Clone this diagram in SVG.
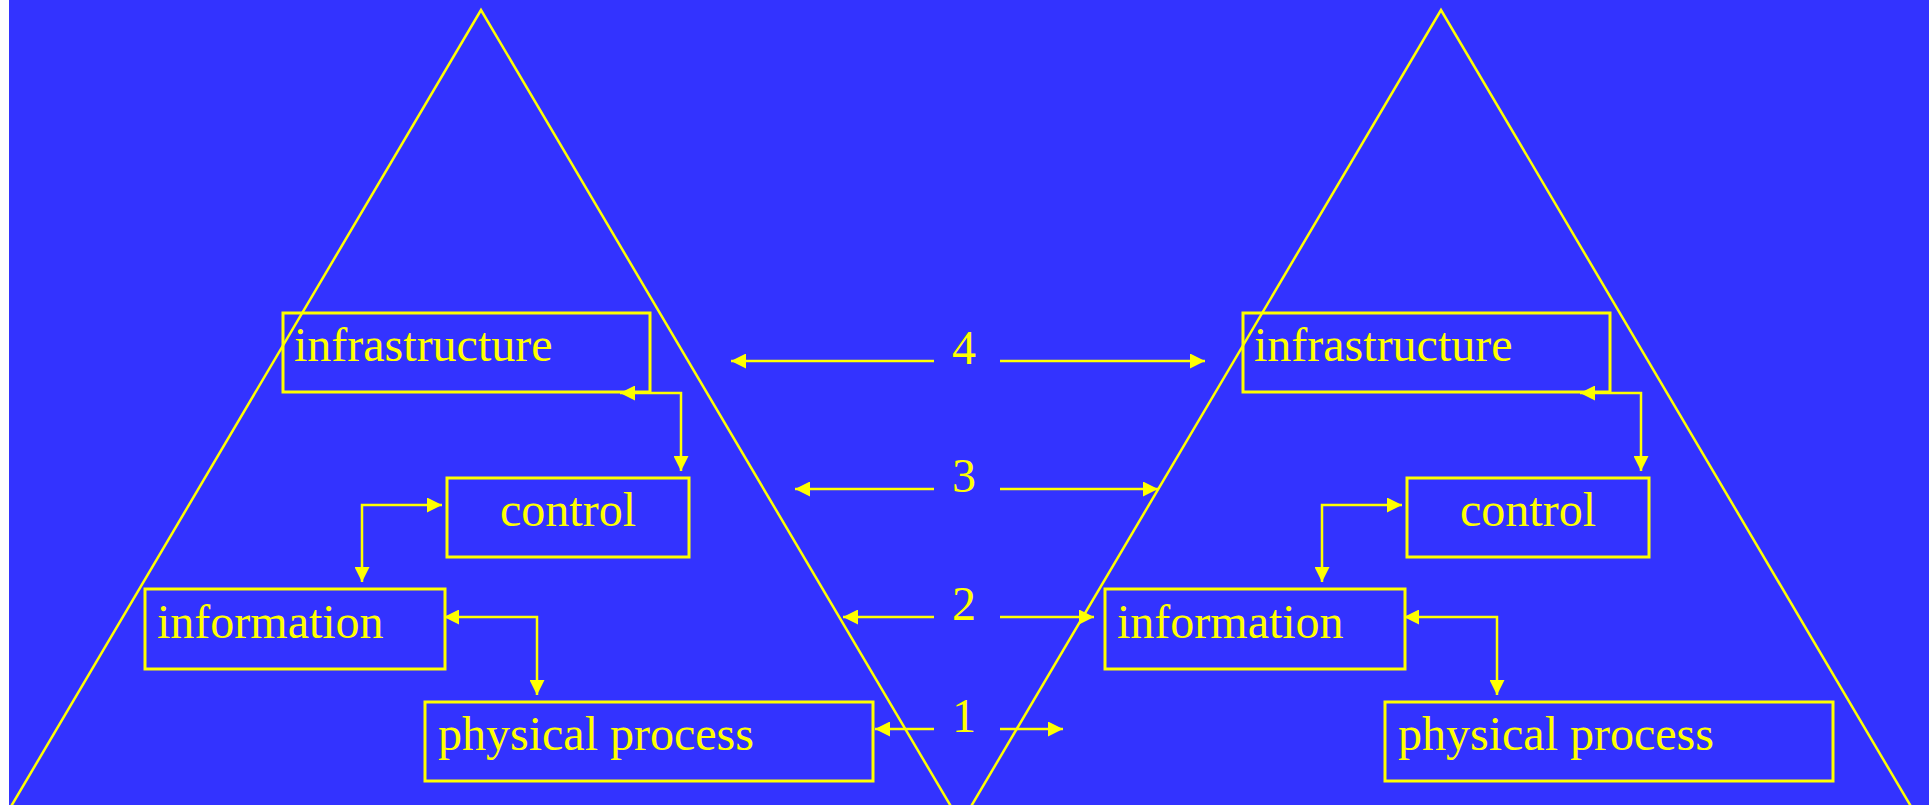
<svg xmlns="http://www.w3.org/2000/svg" width="1929" height="805" viewBox="0 0 1929 805">
<defs>
<style>
.tri{fill:none;stroke:#FFFF00;stroke-width:2.5}
.box{fill:none;stroke:#FFFF00;stroke-width:3}
.lbl{font-family:"Liberation Serif","Times New Roman",serif;font-size:48px;fill:#FFFF00}
.num{font-family:"Liberation Serif","Times New Roman",serif;font-size:48px;fill:#FFFF00;text-anchor:middle}
.con{fill:none;stroke:#FFFF00;stroke-width:2.5}
.bi{marker-start:url(#ah);marker-end:url(#ah)}
.one{marker-end:url(#ah)}
</style>
<marker id="ah" viewBox="0 0 15 15" refX="15" refY="7.5" markerWidth="15" markerHeight="15" orient="auto-start-reverse" markerUnits="userSpaceOnUse">
<path d="M0,0 L15,7.5 L0,15 z" fill="#FFFF00"/>
</marker>
</defs>
<rect x="0" y="0" width="1929" height="805" fill="#FFFFFF"/>
<rect x="9" y="0" width="1920" height="805" fill="#3333FF"/>
<g id="pyramid-left">
<polygon class="tri" points="3,820 481,10 959,820"/>
</g>
<g id="pyramid-right">
<polygon class="tri" points="963,820 1441,10 1919,820"/>
</g>
<g id="left-infrastructure"><rect class="box" x="283" y="313" width="367" height="79"/><text class="lbl" x="294" y="361">infrastructure</text></g>
<g id="left-control"><rect class="box" x="447" y="478" width="242" height="79"/><text class="lbl" x="568" y="526" text-anchor="middle">control</text></g>
<g id="left-information"><rect class="box" x="145" y="589" width="300" height="80"/><text class="lbl" x="157" y="638">information</text></g>
<g id="left-physical"><rect class="box" x="425" y="702" width="448" height="79"/><text class="lbl" x="438" y="750">physical process</text></g>
<g id="right-infrastructure"><rect class="box" x="1243" y="313" width="367" height="79"/><text class="lbl" x="1254" y="361">infrastructure</text></g>
<g id="right-control"><rect class="box" x="1407" y="478" width="242" height="79"/><text class="lbl" x="1528" y="526" text-anchor="middle">control</text></g>
<g id="right-information"><rect class="box" x="1105" y="589" width="300" height="80"/><text class="lbl" x="1117" y="638">information</text></g>
<g id="right-physical"><rect class="box" x="1385" y="702" width="448" height="79"/><text class="lbl" x="1398" y="750">physical process</text></g>
<g id="level-labels">
<text class="num" x="964" y="364">4</text>
<text class="num" x="964" y="492">3</text>
<text class="num" x="964" y="620">2</text>
<text class="num" x="964" y="732">1</text>
</g>
<g id="connectors">
<path class="con one" d="M934,361 L731,361"/>
<path class="con one" d="M1000,361 L1205,361"/>
<path class="con one" d="M934,489 L795,489"/>
<path class="con one" d="M1000,489 L1158,489"/>
<path class="con one" d="M934,617 L843,617"/>
<path class="con one" d="M1000,617 L1094,617"/>
<path class="con one" d="M934,729 L875,729"/>
<path class="con one" d="M1000,729 L1063,729"/>
<path class="con bi" d="M620,393 L681,393 L681,471"/>
<path class="con bi" d="M442,505 L362,505 L362,582"/>
<path class="con bi" d="M444,617 L537,617 L537,695"/>
<path class="con bi" d="M1580,393 L1641,393 L1641,471"/>
<path class="con bi" d="M1402,505 L1322,505 L1322,582"/>
<path class="con bi" d="M1404,617 L1497,617 L1497,695"/>
</g>
</svg>
